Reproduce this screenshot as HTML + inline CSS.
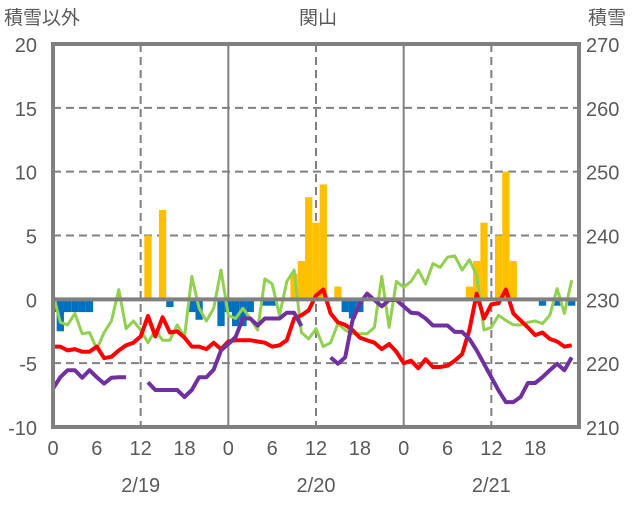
<!DOCTYPE html>
<html><head><meta charset="utf-8"><style>
body{margin:0;background:#fff;}
svg text{font-family:"Liberation Sans","Noto Sans CJK JP",sans-serif;fill:#595959;}
</style></head><body>
<svg id="chart" width="636" height="501" xmlns="http://www.w3.org/2000/svg">
<g id="grid"></g>
<g id="bars"></g>
<g id="lines"></g>
<g id="axes"></g>
<text x="4" y="24" font-size="19">積雪以外</text>
<text x="318" y="24" font-size="19" text-anchor="middle">関山</text>
<text x="588" y="24" font-size="19">積雪</text>
</svg>
<script>
const hours = Array.from({length:72},(_,i)=>i);
const xTickLabels = ["0","6","12","18","0","6","12","18","0","6","12","18"];
const dateLabels = ["2/19","2/20","2/21"];
const leftTicks = [20,15,10,5,0,-5,-10];
const rightTicks = [270,260,250,240,230,220,210];
const snowfall = [0,0,0,0,0,0,0,0,0,0,0,0,0,5,0,7,0,0,0,0,0,0,0,0,0,0,0,0,0,0,0,0,0,2,3,8,6,9,0,1,0,0,0,0,0,0,0,0,0,0,0,0,0,0,0,0,0,1,3,6,0,5,10,3,0,0,0,0,0,0,0,0];
const negBars = [-1,-2.5,-1,-1,-1,-1,0,0,0,0,0,0,0,0,0,0,-0.6,0,0,-1,-1.6,0,0,-2.1,-1,-2.1,-2.1,-1,0,-0.5,-0.5,0,0,0,0,0,0,0,0,0,-1,-1.5,-1,0,0,0,0,0,0,0,0,0,0,0,0,0,0,0,0,0,0,0,0,0,0,0,0,-0.5,0,-0.5,0,-0.5];
const redTemp = [-3.7,-3.7,-4.0,-3.9,-4.1,-4.1,-3.7,-4.6,-4.5,-4.0,-3.6,-3.4,-2.9,-1.3,-2.9,-1.4,-2.6,-2.5,-3.0,-3.7,-3.7,-3.9,-3.4,-3.9,-3.3,-3.2,-3.2,-3.2,-3.3,-3.4,-3.7,-3.6,-3.2,-1.5,-1.25,-0.86,0.3,0.76,-1.1,-1.8,-2.0,-2.4,-3.0,-3.2,-3.4,-3.9,-3.5,-4.1,-5.0,-4.8,-5.4,-4.7,-5.3,-5.3,-5.2,-4.8,-4.3,-2.4,0.44,-1.5,-0.4,-0.3,0.76,-1.1,-1.65,-2.2,-2.8,-2.6,-3.1,-3.3,-3.7,-3.6];
const greenVal = [0.44,-1.8,-2.0,-1.1,-2.7,-2.6,-3.9,-2.6,-1.7,0.76,-2.3,-1.7,-2.4,-3.4,-2.4,-3.2,-3.2,-2.0,-2.95,1.8,-0.7,-1.7,-0.7,2.3,-1.25,-1.5,-0.7,-1.5,-2.4,1.6,1.2,-1.25,1.4,2.3,-2.6,-3.1,-2.3,-3.7,-3.4,-1.9,-2.4,-2.7,-2.7,-2.7,-2.2,1.8,-2.2,1.4,0.96,1.4,2.3,1.2,2.8,2.5,3.3,3.4,2.3,3.1,1.9,-2.4,-2.2,-1.25,-1.65,-2.0,-2.0,-1.8,-1.7,-1.9,-1.25,0.83,-1.1,1.5];
const snowDepth = [216,217.8,218.9,218.9,217.7,218.9,217.8,216.8,217.7,217.8,217.8,null,null,217,215.8,215.8,215.8,215.8,214.7,215.8,217.8,217.8,219,222,223,224.1,227,227,225.9,227,227,227,227.9,227.9,225.8,null,null,null,220.9,219.9,220.9,226.7,229.3,230.9,229.9,228.9,229.9,229.9,228.9,227.9,227.8,227,225.9,225.9,225.9,224.9,224.9,223.8,222,219.9,217.8,215.7,213.9,213.9,214.7,216.9,216.9,217.8,218.9,219.9,218.9,220.9];

const NS="http://www.w3.org/2000/svg";
const L=53,R=579,T=44,B=427;
const xs=h=>L+(R-L)*h/72;
const yL=v=>T+(20-v)*(B-T)/30;
const yR=v=>T+(270-v)*(B-T)/60;
function mk(tag,attrs,parent){const e=document.createElementNS(NS,tag);for(const k in attrs)e.setAttribute(k,attrs[k]);parent.appendChild(e);return e;}
const grid=document.getElementById('grid'),bars=document.getElementById('bars'),lines=document.getElementById('lines'),axes=document.getElementById('axes');
// horizontal grid
leftTicks.forEach(v=>{ if(v===20||v===-10||v===0) return;
  const g=mk('line',{x1:L,x2:R,y1:yL(v),y2:yL(v),stroke:'#808080','stroke-width':2,'stroke-dasharray':'8,5'},grid);
  
  
});
[12,36,60].forEach(h=>{const g=mk('line',{x1:xs(h),x2:xs(h),y1:T,y2:B,stroke:'#808080','stroke-width':2,'stroke-dasharray':'8,5'},grid);
  
  });
[24,48].forEach(h=>{const g=mk('line',{x1:xs(h),x2:xs(h),y1:T,y2:B,stroke:'#808080','stroke-width':2},grid);
  
  });
// bars
const bw=(R-L)/72;
hours.forEach(h=>{
  const s=snowfall[h];
  if(s>0){const b=mk('rect',{x:Math.max(L,xs(h)-bw/2),y:yL(s),width:bw,height:yL(0)-yL(s),fill:'#FFC000'},bars);
    
    }
  const n=negBars[h];
  if(n<0){const x0=Math.max(L,xs(h)-bw/2);const b=mk('rect',{x:x0,y:yL(0),width:xs(h)+bw/2-x0,height:yL(n)-yL(0),fill:'#0070C0'},bars);
    
    }
});
// zero line
const z=mk('line',{x1:L,x2:R,y1:yL(0),y2:yL(0),stroke:'#808080','stroke-width':4},axes);


function path(vals,yf,color,name,w){
  let d='',pen=false;
  vals.forEach((v,h)=>{ if(v===null){pen=false;return;} d+=(pen?'L':'M')+xs(h).toFixed(1)+','+yf(v).toFixed(1); pen=true;});
  const p=mk('path',{d:d,fill:'none',stroke:color,'stroke-width':w,'stroke-linejoin':'round'},lines);
  
  
}
path(greenVal,yL,'#92D050','green-series',3);
path(redTemp,yL,'#FF0000','red-series',4);
path(snowDepth,yR,'#7030A0','snow-depth-series',4);
// frame
const f=mk('rect',{x:L,y:T,width:R-L,height:B-T,fill:'none',stroke:'#808080','stroke-width':4},axes);


leftTicks.forEach(v=>{const t=mk('text',{x:37,y:yL(v)+8,'font-size':20,'text-anchor':'end'},axes);t.textContent=v;
  
  });
rightTicks.forEach(v=>{const t=mk('text',{x:586,y:yL(20-(270-v)/2)+8,'font-size':20},axes);t.textContent=v;
  
  });
xTickLabels.forEach((s,i)=>{const t=mk('text',{x:xs(i*6),y:455,'font-size':20,'text-anchor':'middle'},axes);t.textContent=s;
  
  });
dateLabels.forEach((s,i)=>{const t=mk('text',{x:xs(12+24*i),y:492,'font-size':20,'text-anchor':'middle'},axes);t.textContent=s;
  
  });
</script>
</body></html>
